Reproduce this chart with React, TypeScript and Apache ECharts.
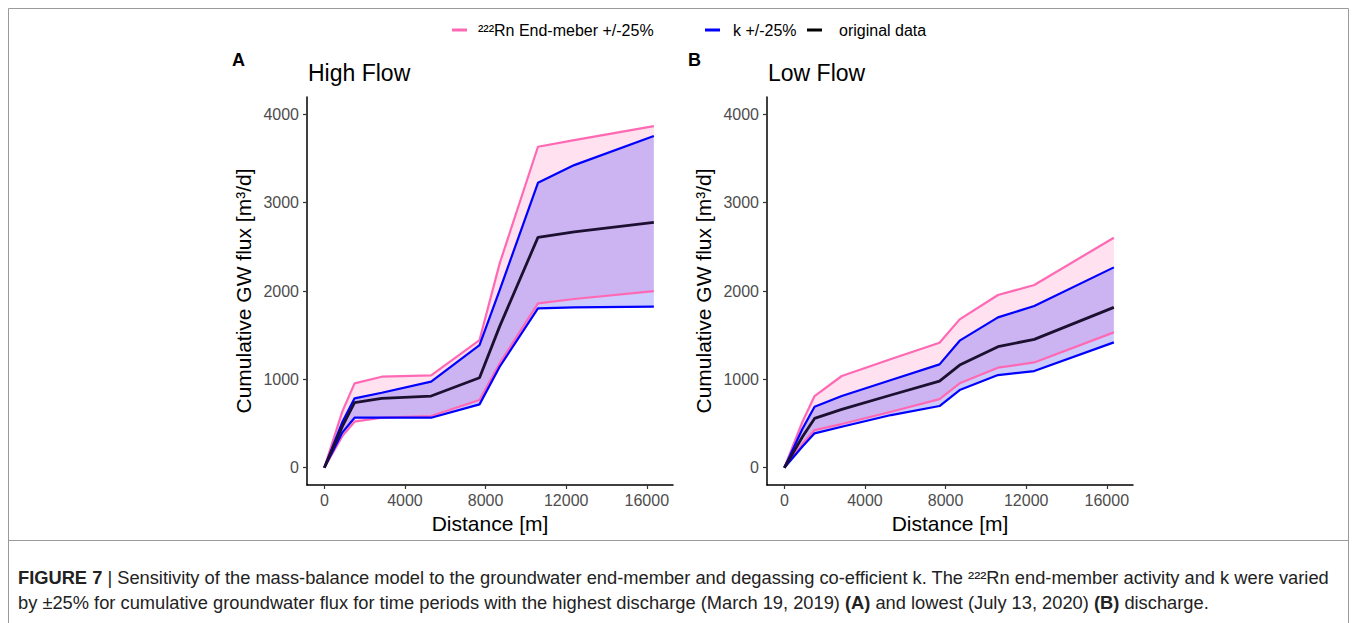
import React, { useEffect, useRef } from "react";
import * as echarts from "echarts";

// Distance along the stream [m]
const distance = [0, 900, 1500, 2850, 5300, 7700, 8700, 10600, 12400, 16350];

// Panel A – High Flow (cumulative GW flux, m3/d)
const rnUpperHigh = [0, 640, 955, 1030, 1045, 1445, 2313, 3634, 3709, 3868];
const rnLowerHigh = [0, 360, 521, 566, 585, 766, 1181, 1860, 1910, 2000];
const kUpperHigh = [0, 520, 785, 849, 974, 1389, 2010, 3226, 3426, 3755];
const kLowerHigh = [0, 400, 566, 566, 566, 717, 1143, 1804, 1815, 1823];
const originalHigh = [0, 470, 736, 785, 811, 1019, 1600, 2608, 2670, 2777];

// Panel B – Low Flow
const rnUpperLow = [0, 520, 811, 1038, 1230, 1415, 1679, 1955, 2068, 2604];
const rnLowerLow = [0, 270, 426, 494, 634, 777, 955, 1132, 1192, 1532];
const kUpperLow = [0, 440, 691, 811, 992, 1170, 1438, 1702, 1830, 2268];
const kLowerLow = [0, 240, 389, 464, 596, 698, 879, 1049, 1094, 1419];
const originalLow = [0, 350, 558, 660, 823, 981, 1162, 1370, 1453, 1815];

const xTicks = [0, 4000, 8000, 12000, 16000];
const yTicks = [0, 1000, 2000, 3000, 4000];
const panelLetters = ["A", "B"];
const panelTitles = ["High Flow", "Low Flow"];
const legendNames = ["²²²Rn End-meber +/-25%", "k +/-25%", "original data"];

const FONT = "Liberation Sans, Arial, sans-serif";
const PINK = "#ff69b4";
const BLUE = "#0000ff";
const BLACK = "#1c1030";

const pair = (ys: number[]) => distance.map((d, i) => [d, ys[i]]);

// Ribbon between lower and upper bounds, drawn as one polygon through the axes' scales
function band(idx: number, lo: number[], hi: number[], color: string) {
  return {
    type: "custom", xAxisIndex: idx, yAxisIndex: idx, silent: true, z: 1, clip: true,
    data: distance.map((d, i) => [d, lo[i], hi[i]]),
    encode: { x: 0, y: [1, 2] },
    renderItem: (params: any, api: any) => {
      if (params.dataIndex !== 0) return null;
      const n = distance.length;
      const top: number[][] = [];
      const bottom: number[][] = [];
      for (let i = 0; i < n; i++) {
        const x = api.value(0, i);
        top.push(api.coord([x, api.value(2, i)]));
        bottom.push(api.coord([x, api.value(1, i)]));
      }
      return {
        type: "polygon",
        shape: { points: top.concat(bottom.reverse()) },
        style: { fill: color, stroke: "none" },
      };
    },
  };
}

function line(idx: number, name: string, ys: number[], color: string, width: number, z: number) {
  return {
    type: "line", name, xAxisIndex: idx, yAxisIndex: idx, data: pair(ys), symbol: "none",
    lineStyle: { color, width }, itemStyle: { color }, z,
  };
}

function panelSeries(idx: number, rnU: number[], rnL: number[], kU: number[], kL: number[], orig: number[]) {
  return [
    band(idx, rnL, rnU, "rgba(255,105,180,0.2)"),
    band(idx, kL, kU, "rgba(0,0,255,0.2)"),
    line(idx, legendNames[0], rnU, PINK, 2.2, 2),
    line(idx, legendNames[0], rnL, PINK, 2.2, 2),
    line(idx, legendNames[1], kU, BLUE, 2.2, 3),
    line(idx, legendNames[1], kL, BLUE, 2.2, 3),
    line(idx, legendNames[2], orig, BLACK, 2.8, 4),
  ];
}

const gridLefts = [307, 767];

function xAxis(idx: number) {
  return {
    type: "value", gridIndex: idx, min: -860, max: 17300,
    name: "Distance [m]", nameLocation: "middle", nameGap: 27,
    nameTextStyle: { fontFamily: FONT, fontSize: 21, color: "#000" },
    axisLine: { show: true, onZero: false, lineStyle: { color: "#000", width: 1.5 } },
    axisTick: { show: true, customValues: xTicks, length: 4, lineStyle: { color: "#333", width: 1.2 } },
    axisLabel: { customValues: xTicks, formatter: (v: number) => String(v), margin: 7, fontFamily: FONT, fontSize: 16, color: "#4d4d4d" },
    splitLine: { show: false },
  };
}

function yAxis(idx: number) {
  return {
    type: "value", gridIndex: idx, min: -196, max: 4197,
    name: "Cumulative GW flux [m³/d]", nameLocation: "middle", nameGap: 53,
    nameTextStyle: { fontFamily: FONT, fontSize: 21, color: "#000" },
    axisLine: { show: true, onZero: false, lineStyle: { color: "#000", width: 1.5 } },
    axisTick: { show: true, customValues: yTicks, length: 4, lineStyle: { color: "#333", width: 1.2 } },
    axisLabel: { customValues: yTicks, formatter: (v: number) => String(v), margin: 8, fontFamily: FONT, fontSize: 16, color: "#4d4d4d" },
    splitLine: { show: false },
  };
}

function legend(left: number, name: string, gap: number, color: string) {
  return {
    left, top: 22, padding: 0, icon: "rect", itemWidth: 15, itemHeight: 3,
    data: [{ name, itemStyle: { color } }],
    selectedMode: false,
    textStyle: { fontFamily: FONT, fontSize: 16, color: "#000", padding: [0, 0, 0, gap] },
  };
}

export default function App() {
  const ref = useRef<HTMLDivElement>(null);
  useEffect(() => {
    if (!ref.current) return;
    const chart = echarts.init(ref.current, null, { renderer: "svg" });
    const CAP = 18.3;
    const captionStyle = { fontFamily: FONT, fontSize: CAP, fill: "#222" };
    const rich = {
      b: { fontFamily: FONT, fontSize: CAP, fontWeight: "bold", color: "#222" },
      n: { fontFamily: FONT, fontSize: CAP, color: "#222" },
    };
    chart.setOption({
      animation: false,
      backgroundColor: "#fff",
      title: [
        { text: panelLetters[0], left: 232, top: 51, padding: 0, textStyle: { fontFamily: FONT, fontSize: 18, fontWeight: "bold", color: "#000" } },
        { text: panelTitles[0], left: 308, top: 61, padding: 0, textStyle: { fontFamily: FONT, fontSize: 23, fontWeight: "normal", color: "#000" } },
        { text: panelLetters[1], left: 688, top: 51, padding: 0, textStyle: { fontFamily: FONT, fontSize: 18, fontWeight: "bold", color: "#000" } },
        { text: panelTitles[1], left: 768, top: 61, padding: 0, textStyle: { fontFamily: FONT, fontSize: 23, fontWeight: "normal", color: "#000" } },
      ],
      legend: [
        legend(452, legendNames[0], 6, PINK),
        legend(705, legendNames[1], 8, BLUE),
        legend(807, legendNames[2], 12, "#000"),
      ],
      grid: gridLefts.map((left) => ({ left, top: 97, width: 366, height: 388 })),
      xAxis: [xAxis(0), xAxis(1)],
      yAxis: [yAxis(0), yAxis(1)],
      series: [
        ...panelSeries(0, rnUpperHigh, rnLowerHigh, kUpperHigh, kLowerHigh, originalHigh),
        ...panelSeries(1, rnUpperLow, rnLowerLow, kUpperLow, kLowerLow, originalLow),
      ],
      graphic: [
        { type: "rect", shape: { x: 8.5, y: 8.5, width: 1340, height: 700 }, style: { fill: "none", stroke: "#9a9a9a", lineWidth: 1 }, silent: true },
        { type: "line", shape: { x1: 8.5, y1: 540.5, x2: 1348.5, y2: 540.5 }, style: { stroke: "#9a9a9a", lineWidth: 1 }, silent: true },
        {
          type: "text", x: 18, y: 577, silent: true,
          style: {
            ...captionStyle, verticalAlign: "middle",
            text: "{b|FIGURE 7} {n|| Sensitivity of the mass-balance model to the groundwater end-member and degassing co-efficient k. The ²²²Rn end-member activity and k were varied}",
            rich,
          },
        },
        {
          type: "text", x: 18, y: 602, silent: true,
          style: {
            ...captionStyle, verticalAlign: "middle",
            text: "{n|by ±25% for cumulative groundwater flux for time periods with the highest discharge (March 19, 2019) }{b|(A)}{n| and lowest (July 13, 2020) }{b|(B)}{n| discharge.}",
            rich,
          },
        },
      ],
    });
    return () => chart.dispose();
  }, []);
  return <div ref={ref} style={{ position: "absolute", left: 0, top: 0, width: 1357, height: 623 }} />;
}
